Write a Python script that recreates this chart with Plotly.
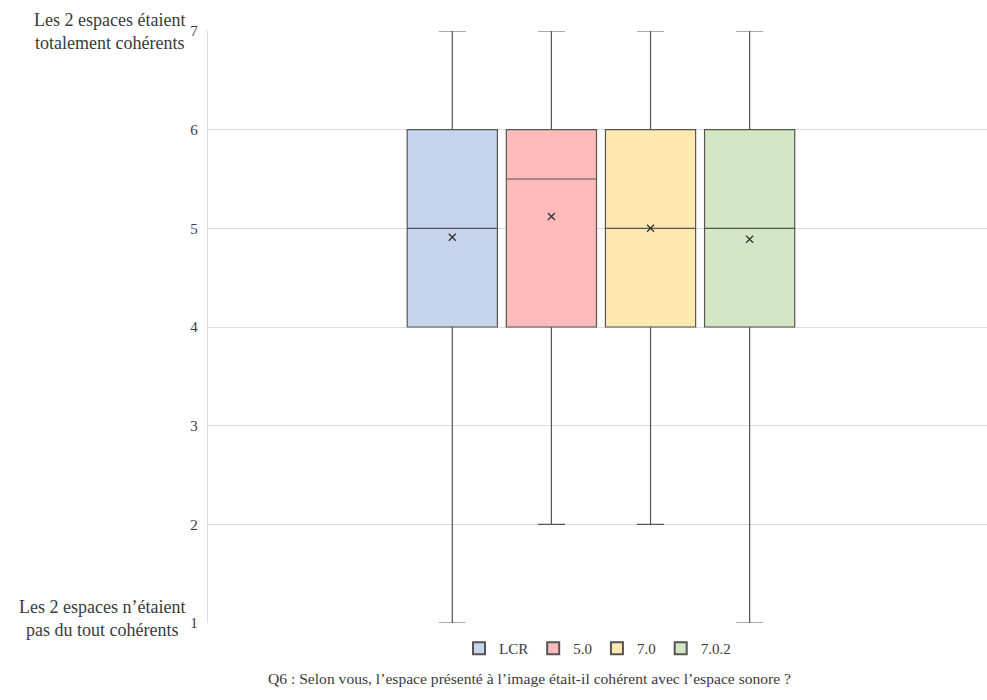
import plotly.graph_objects as go

series = ["LCR", "5.0", "7.0", "7.0.2"]
mins = [1, 2, 2, 1]
q1s = [4, 4, 4, 4]
medians = [5, 5.5, 5, 5]
q3s = [6, 6, 6, 6]
maxs = [7, 7, 7, 7]
means = [4.91, 5.12, 5.0, 4.89]
fills = ["#c6d4ed", "#ffbaba", "#ffe9b0", "#d4e7c5"]

yticks = [1, 2, 3, 4, 5, 6, 7]
top_label = "Les 2 espaces étaient<br>totalement cohérents"
bottom_label = "Les 2 espaces n’étaient<br>pas du tout cohérents"
title = "Q6 : Selon vous, l’espace présenté à l’image était-il cohérent avec l’espace sonore ?"

FONT = "Liberation Serif, Times New Roman, serif"
TXT = "#3a3a3a"

fig = go.Figure()
for i, name in enumerate(series):
    fig.add_trace(go.Box(
        name=name,
        x=[i],
        q1=[q1s[i]], median=[medians[i]], q3=[q3s[i]],
        lowerfence=[mins[i]], upperfence=[maxs[i]],
        fillcolor=fills[i],
        line=dict(color="#555555", width=1.2),
        width=0.91,
        whiskerwidth=0.3,
        boxpoints=False,
        hoverinfo="skip",
    ))
fig.add_trace(go.Scatter(
    x=list(range(len(series))), y=means, mode="markers",
    marker=dict(symbol="x-thin", size=7, line=dict(color="#333333", width=1.3)),
    showlegend=False, hoverinfo="skip",
))

fig.update_layout(
    width=987, height=700,
    margin=dict(l=208, r=0, t=31, b=77),
    plot_bgcolor="white", paper_bgcolor="white",
    font=dict(family=FONT, color=TXT, size=14),
    showlegend=True,
    legend=dict(orientation="h", x=0.5, xanchor="center", y=-0.015, yanchor="top",
                font=dict(family=FONT, size=15, color=TXT),
                itemwidth=30, tracegroupgap=0, itemsizing="constant"),
    xaxis=dict(range=[-2.465, 5.395], showticklabels=False, showgrid=False,
               zeroline=False, showline=False),
    yaxis=dict(range=[1, 7], tickvals=yticks, showgrid=True, gridcolor="#dcdcdc",
               gridwidth=1.3, zeroline=False, showline=True, linecolor="#dcdcdc",
               linewidth=1.3, ticks="", ticklabelstandoff=6,
               tickfont=dict(family=FONT, size=15, color=TXT)),
    annotations=[
        dict(text=top_label, xref="paper", yref="paper", x=-0.027, y=1.0, xanchor="right",
             yanchor="middle", showarrow=False, align="center",
             font=dict(family=FONT, size=18, color=TXT)),
        dict(text=bottom_label, xref="paper", yref="paper", x=-0.027, y=0.007, xanchor="right",
             yanchor="middle", showarrow=False, align="center",
             font=dict(family=FONT, size=18, color=TXT)),
        dict(text=title, xref="paper", yref="paper", x=0.413, y=-0.076, xanchor="center",
             yanchor="top", showarrow=False,
             font=dict(family=FONT, size=15.6, color=TXT)),
    ],
)

fig.write_html("out.html", config={"displayModeBar": False},
               post_script="document.body.style.margin='0';document.body.style.overflow='hidden';")
